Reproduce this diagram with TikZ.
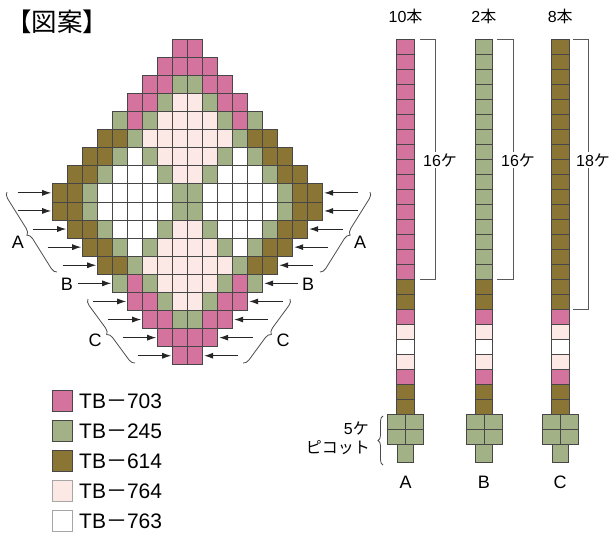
\documentclass[tikz,border=0pt]{standalone}
\usepackage{fontspec}
\setmainfont{Liberation Sans}
\newfontfamily\jp{Noto Sans CJK JP}
\usetikzlibrary{arrows.meta,decorations.pathreplacing}
\definecolor{cP}{RGB}{212,116,158}
\definecolor{cG}{RGB}{163,177,135}
\definecolor{cO}{RGB}{139,117,52}
\definecolor{cL}{RGB}{252,232,228}
\definecolor{cW}{RGB}{255,255,255}
\begin{document}
\begin{tikzpicture}[x=1pt,y=-1pt,
  cell/.style={draw=black!72,line width=0.7pt},
  arr/.style={draw=black!85,line width=0.9pt,-{Latex[length=9pt,width=6pt]},shorten >=1.5pt},
  brk/.style={draw=black!65,line width=0.9pt},
  brc/.style={draw=black!70,line width=0.8pt,decorate,decoration={brace,amplitude=6pt}},
  lbl/.style={font=\fontsize{18}{18}\selectfont,inner sep=0pt},
  sml/.style={font=\fontsize{16}{16}\selectfont,inner sep=1pt},
  ]
\useasboundingbox[fill=white] (0,0) rectangle (613,534);

% title
\node[font=\jp\fontsize{25.5}{25.5}\selectfont,inner sep=0pt] (title) at (57,22) {【図案】};

% diamond
\foreach \r/\s/\cols in {
  1/9/{P,P},
  2/8/{P,P,P,P},
  3/7/{P,P,G,G,P,P},
  4/6/{P,P,G,L,L,G,P,P},
  5/5/{G,P,G,L,L,L,L,G,P,G},
  6/4/{O,O,G,L,L,L,L,L,L,G,O,O},
  7/3/{O,O,G,W,G,L,L,L,L,G,W,G,O,O},
  8/2/{O,O,G,W,W,W,G,L,L,G,W,W,W,G,O,O},
  9/1/{O,O,G,W,W,W,W,W,G,G,W,W,W,W,W,G,O,O},
  10/1/{O,O,G,W,W,W,W,W,G,G,W,W,W,W,W,G,O,O},
  11/2/{O,O,G,W,W,W,G,L,L,G,W,W,W,G,O,O},
  12/3/{O,O,G,W,G,L,L,L,L,G,W,G,O,O},
  13/4/{O,O,G,L,L,L,L,L,L,G,O,O},
  14/5/{G,P,G,L,L,L,L,G,P,G},
  15/6/{P,P,G,L,L,G,P,P},
  16/7/{P,P,G,G,P,P},
  17/8/{P,P,P,P},
  18/9/{P,P}} {
  \foreach \c [count=\i from 0] in \cols {
    \path[cell,fill=c\c] ({52.7+15*(\s-1+\i)},{39+18.1*(\r-1)}) rectangle +(15,18.1);
  }
}

% arrows
\foreach \r/\xl in {9/52.7,10/52.7,11/67.7,12/82.7,13/97.7,14/112.7,15/127.7,16/142.7,17/157.7,18/172.7} {
  \coordinate (L\r) at (\xl,{39+18.1*(\r-0.5)});
  \coordinate (Ls\r) at ({\xl-35},{39+18.1*(\r-0.5)});
  \coordinate (R\r) at ({375.4-\xl},{39+18.1*(\r-0.5)});
  \coordinate (Rs\r) at ({410.4-\xl},{39+18.1*(\r-0.5)});
  \draw[arr] (Ls\r) -- (L\r);
  \draw[arr] (Rs\r) -- (R\r);
}

% braces on diamond
\coordinate (bAl1) at (57,272); \coordinate (bAl2) at (7,192);
\coordinate (bAr1) at (370,192); \coordinate (bAr2) at (320,272);
\coordinate (bCl1) at (135,363); \coordinate (bCl2) at (88,299);
\coordinate (bCr1) at (290,299); \coordinate (bCr2) at (243,363);
\draw[brc] (bAl1) -- (bAl2);
\draw[brc] (bAr1) -- (bAr2);
\draw[brc] (bCl1) -- (bCl2);
\draw[brc] (bCr1) -- (bCr2);
\node[lbl] (Al) at (18,242) {A};
\node[lbl] (Ar) at (360,242) {A};
\node[lbl] (Bl) at (67,284) {B};
\node[lbl] (Br) at (308,284) {B};
\node[lbl] (Cl) at (95,340) {C};
\node[lbl] (Cr) at (283,340) {C};

% strips
\foreach \xc/\top/\n in {405.5/P/16,483.9/G/16} {
  \foreach \k in {1,...,\n} {
    \path[cell,fill=c\top] ({\xc-8.8},{39.3+15*(\k-1)}) rectangle +(17.6,15);
  }
  \foreach \c [count=\i from 16] in {O,O,P,L,W,L,P,O,O} {
    \path[cell,fill=c\c] ({\xc-8.8},{39.3+15*\i}) rectangle +(17.6,15);
  }
}
\foreach \k in {0,...,17} {
  \path[cell,fill=cO] ({560.2-8.8},{39.3+15*\k}) rectangle +(17.6,15);
}
\foreach \c [count=\i from 18] in {P,L,W,L,P,O,O} {
  \path[cell,fill=c\c] ({560.2-8.8},{39.3+15*\i}) rectangle +(17.6,15);
}
% picots
\foreach \xc in {405.5,483.9,560.2} {
  \path[cell,fill=cG] ({\xc-18},414.3) rectangle +(18,15);
  \path[cell,fill=cG] (\xc,414.3) rectangle +(18,15);
  \path[cell,fill=cG] ({\xc-18},429.3) rectangle +(18,15);
  \path[cell,fill=cG] (\xc,429.3) rectangle +(18,15);
  \path[cell,fill=cG] ({\xc-8.3},444.3) rectangle +(16.6,18.5);
}

% strip labels
\node[sml] (nA) at (405.5,16) {10{\jp 本}};
\node[sml] (nB) at (483.9,16) {2{\jp 本}};
\node[sml] (nC) at (560.2,16) {8{\jp 本}};
\node[lbl] (sA) at (405.5,482) {A};
\node[lbl] (sB) at (483.9,482) {B};
\node[lbl] (sC) at (560.2,482) {C};

% brackets
\draw[brk] (420,39.3) -- (435,39.3) -- (435,279.3) -- (420,279.3);
\draw[brk] (497,39.3) -- (513,39.3) -- (513,279.3) -- (497,279.3);
\draw[brk] (573,39.3) -- (588,39.3) -- (588,309.3) -- (573,309.3);
\node[sml,fill=white] (kA) at (440,160) {16{\jp ケ}};
\node[sml,fill=white] (kB) at (518,160) {16{\jp ケ}};
\node[sml,fill=white] (kC) at (593,160) {18{\jp ケ}};

% picot label
\coordinate (pb1) at (383,465); \coordinate (pb2) at (383,416);
\draw[brc,decoration={brace,amplitude=5pt}] (pb1) -- (pb2);
\node[sml,anchor=east] (p1) at (370,428) {5{\jp ケ}};
\node[sml,anchor=east] (p2) at (371,448) {\jp ピコット};

% legend
\foreach \c/\t/\bd [count=\i from 0] in {P/703/72,G/245/72,O/614/72,L/764/35,W/763/35} {
  \path[draw=black!\bd,line width=0.8pt,fill=c\c] (52.5,{390.3+29.9*\i}) rectangle +(20.2,21.5);
  \node[anchor=base west,inner sep=0pt,font=\fontsize{21}{21}\selectfont] (lg\i) at (79,{408.5+29.9*\i}) {TB{\jp －}\t};
}
\end{tikzpicture}
\end{document}
